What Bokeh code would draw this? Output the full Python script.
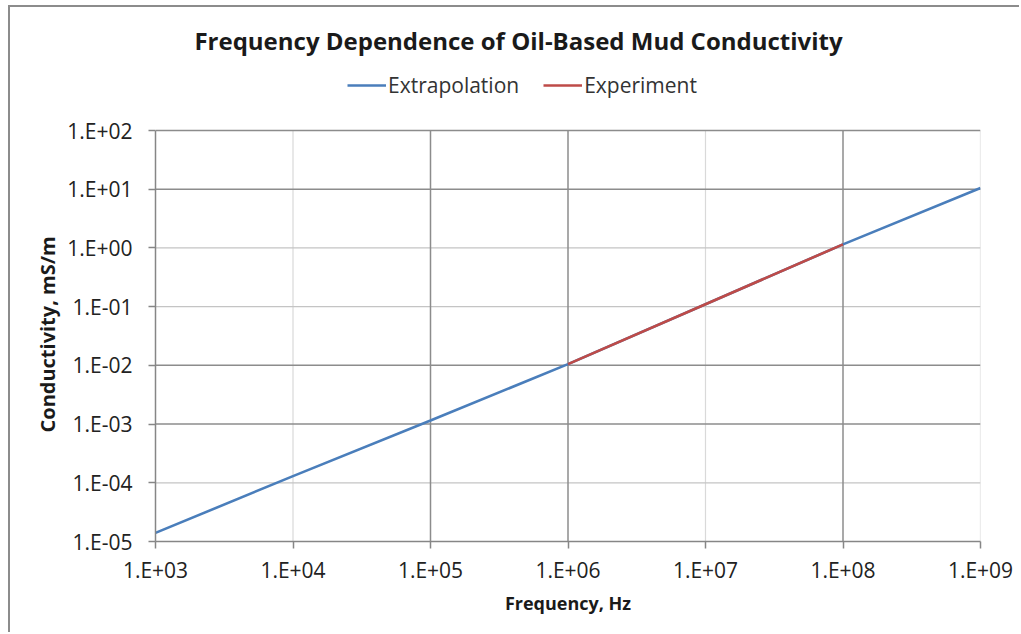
import math
from bokeh.plotting import figure
from bokeh.models import (Range1d, FixedTicker, CustomJSTickFormatter, Label, Title,
                          Legend, LegendItem)
from bokeh.embed import file_html
from bokeh.resources import INLINE

# ---- data ----
ext_freq = [1e3, 1e4, 1e5, 1e6, 1e7, 1e8, 1e9]
ext_cond = [1.4e-5, 1.3e-4, 1.15e-3, 1.05e-2, 1.1e-1, 1.15, 1.05e1]
exp_freq = [1e6, 1e7, 1e8]
exp_cond = [1.05e-2, 1.1e-1, 1.15]
x_ticks = [1e3, 1e4, 1e5, 1e6, 1e7, 1e8, 1e9]
y_ticks = [1e-5, 1e-4, 1e-3, 1e-2, 1e-1, 1e0, 1e1, 1e2]
title_text = "Frequency Dependence of Oil-Based Mud Conductivity"
x_label = "Frequency, Hz"
y_label = "Conductivity, mS/m"
series_names = ["Extrapolation", "Experiment"]

# decades drawn with a darker grid line (style only)
dark_x = [1e5, 1e6, 1e8]
dark_y = [1e2, 1e1, 1e-2, 1e-3]

# ---- layout (pixels) ----
OX, OY = 10, 7                      # chart border offset (margin + border)
W, H = 1021 - OX, 634 - OY
PLOT_LEFT, PLOT_RIGHT, PLOT_TOP, PLOT_BOTTOM = 155, 980, 130, 541   # page pixels
FL, FR = PLOT_LEFT - OX, 1021 - PLOT_RIGHT
FT = 0
FB = H - (PLOT_BOTTOM - OY)
FONT = "Open Sans"

ymin, ymax = y_ticks[0], y_ticks[-1]
dec_px = (PLOT_BOTTOM - PLOT_TOP) / (math.log10(ymax) - math.log10(ymin))
extra_dec = (PLOT_TOP - OY) / dec_px
y_end = 10 ** (math.log10(ymax) + extra_dec)

p = figure(width=W, height=H, x_axis_type="log", y_axis_type="log",
           x_range=Range1d(x_ticks[0], x_ticks[-1]), y_range=Range1d(ymin, y_end),
           output_backend="svg", toolbar_location=None,
           min_border_left=FL, min_border_right=FR, min_border_top=FT, min_border_bottom=FB,
           styles={"margin-left": "8px", "margin-top": "5px",
                   "border-left": "2px solid #8c8c8c", "border-top": "2px solid #8c8c8c"})
p.outline_line_color = None
p.background_fill_color = "white"
p.border_fill_color = "white"
p.xgrid.visible = False
p.ygrid.visible = False

fmt = CustomJSTickFormatter(code="""
const e = Math.round(Math.log10(tick));
const a = Math.abs(e);
return '1.E' + (e < 0 ? '-' : '+') + (a < 10 ? '0' : '') + a;
""")

for ax, ticks in ((p.xaxis[0], x_ticks), (p.yaxis[0], y_ticks)):
    ax.ticker = FixedTicker(ticks=ticks, minor_ticks=[])
    ax.formatter = fmt
    ax.bounds = (ticks[0], ticks[-1])
    ax.axis_line_color = "#868686"
    ax.axis_line_width = 1.5
    ax.major_tick_line_color = "#868686"
    ax.major_tick_line_width = 1.5
    ax.major_tick_in = 0
    ax.major_tick_out = 7
    ax.minor_tick_line_color = None
    ax.major_label_text_font = FONT
    ax.major_label_text_font_size = "21px"
    ax.major_label_text_color = "#222222"
    ax.axis_label_text_font = FONT
    ax.axis_label_text_font_style = "bold"
    ax.axis_label_text_font_size = "18px"
    ax.axis_label_text_color = "#1a1a1a"

p.xaxis.axis_label = x_label
p.xaxis.major_label_standoff = 7
p.xaxis.axis_label_standoff = 4
p.yaxis.major_label_standoff = 16
p.yaxis.major_label_orientation = "horizontal"

# y axis title, starting from a point below the centre of the plot area
ytitle = Title(text=y_label, align="left", offset=PLOT_BOTTOM - 432,
               standoff=8, text_font=FONT, text_font_style="bold", text_font_size="20px",
               text_color="#1a1a1a")
p.add_layout(ytitle, "left")

# grid lines drawn from the tick lists
gx_dark = [t for t in x_ticks[1:] if t in dark_x]
gx_light = [t for t in x_ticks[1:] if t not in dark_x]
gy_dark = [t for t in y_ticks[1:] if t in dark_y]
gy_light = [t for t in y_ticks[1:] if t not in dark_y]
p.segment(x0=gx_light, x1=gx_light, y0=[ymin] * len(gx_light), y1=[ymax] * len(gx_light),
          line_color="#d9d9d9", line_width=1.2)
p.segment(x0=[x_ticks[0]] * len(gy_light), x1=[x_ticks[-1]] * len(gy_light), y0=gy_light, y1=gy_light,
          line_color="#c4c4c4", line_width=1.2)
p.segment(x0=gx_dark, x1=gx_dark, y0=[ymin] * len(gx_dark), y1=[ymax] * len(gx_dark),
          line_color="#8c8c8c", line_width=1.5)
p.segment(x0=[x_ticks[0]] * len(gy_dark), x1=[x_ticks[-1]] * len(gy_dark), y0=gy_dark, y1=gy_dark,
          line_color="#8c8c8c", line_width=1.5)

r_ext = p.line(ext_freq, ext_cond, line_color="#4A7EBB", line_width=2.6)
r_exp = p.line(exp_freq, exp_cond, line_color="#BE4B48", line_width=2.6)

# chart title (screen units relative to the frame's bottom-left)
p.add_layout(Label(x=518 - PLOT_LEFT, y=PLOT_BOTTOM - 40, x_units="screen", y_units="screen",
                   text=title_text, text_font=FONT, text_font_style="bold",
                   text_font_size="24px", text_align="center", text_baseline="middle",
                   text_color="#1a1a1a"))

legend = Legend(items=[LegendItem(label=series_names[0], renderers=[r_ext]),
                       LegendItem(label=series_names[1], renderers=[r_exp])],
                orientation="horizontal", location=(348 - PLOT_LEFT - 4 + 3, PLOT_BOTTOM - 99),
                border_line_color=None, background_fill_alpha=0,
                label_text_font=FONT, label_text_font_size="21px",
                label_text_color="#333333", glyph_width=39, glyph_height=20,
                label_standoff=2, spacing=24, padding=4, margin=0)
p.add_layout(legend, "center")

open("out.html", "w").write(file_html(p, INLINE))
